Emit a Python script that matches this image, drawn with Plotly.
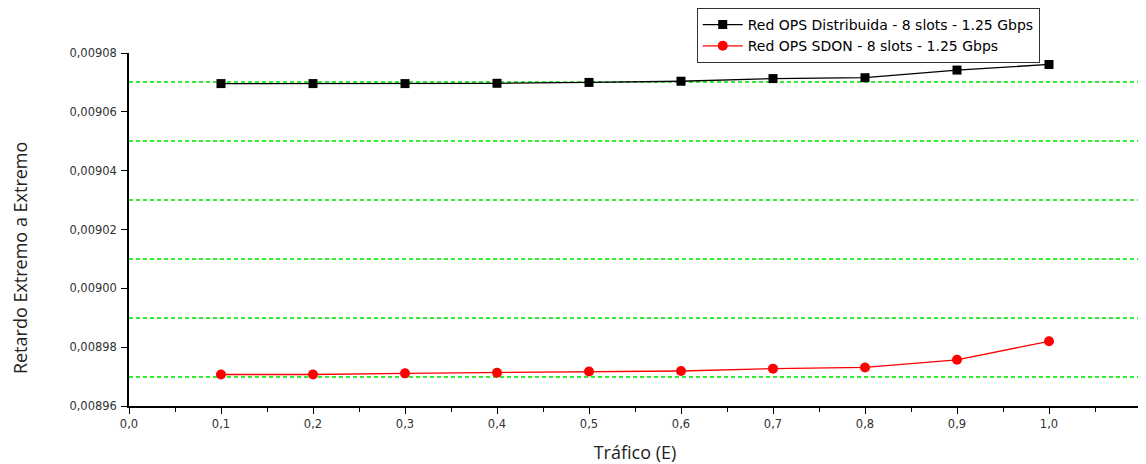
import plotly.graph_objects as go

trafico = [0.1, 0.2, 0.3, 0.4, 0.5, 0.6, 0.7, 0.8, 0.9, 1.0]
retardo_distribuida = [0.0090696, 0.0090696, 0.0090696, 0.0090697, 0.0090700,
                       0.0090704, 0.0090713, 0.0090716, 0.0090742, 0.0090761]
retardo_sdon = [0.0089707, 0.0089707, 0.0089711, 0.0089713, 0.0089717,
                0.0089719, 0.0089727, 0.0089731, 0.0089757, 0.0089820]
nombre_distribuida = "Red OPS Distribuida - 8 slots - 1.25 Gbps"
nombre_sdon = "Red OPS SDON - 8 slots - 1.25 Gbps"
titulo_x = "Tráfico (E)"
titulo_y = "Retardo Extremo a Extremo"

fig = go.Figure()
# invisible helper so the overlaid grid axis is rendered
fig.add_trace(go.Scatter(
    x=trafico, y=retardo_sdon, yaxis="y2", mode="lines",
    line=dict(width=0), opacity=0, showlegend=False, hoverinfo="skip",
))
fig.add_trace(go.Scatter(
    x=trafico, y=retardo_distribuida, name=nombre_distribuida,
    mode="lines+markers",
    line=dict(color="black", width=1.3),
    marker=dict(symbol="square", size=9, color="black"),
))
fig.add_trace(go.Scatter(
    x=trafico, y=retardo_sdon, name=nombre_sdon,
    mode="lines+markers",
    line=dict(color="#ff0000", width=1.3),
    marker=dict(symbol="circle", size=10, color="#ff0000"),
))

axis_font = dict(family="DejaVu Sans, Arial, sans-serif", size=11.5, color="#333333")
title_font = dict(family="Open Sans, Segoe UI, Arial, sans-serif", size=18, color="#222222")
yrange = [0.00896, 0.00908]

fig.update_layout(
    width=1133, height=456,
    margin=dict(l=121, r=0, t=45, b=58, autoexpand=False),
    paper_bgcolor="white", plot_bgcolor="white",
    separators=",.",
    showlegend=True,
    legend=dict(
        x=0.561, y=1.1275, xanchor="left", yanchor="top",
        bgcolor="white", bordercolor="#333333", borderwidth=1,
        font=dict(family="DejaVu Sans, Arial, sans-serif", size=14, color="black"),
        tracegroupgap=0, itemwidth=40,
    ),
    xaxis=dict(
        range=[0, 1.1], dtick=0.1, tick0=0, tickformat=".1f",
        showgrid=False, zeroline=False, automargin=False,
        showline=True, linecolor="black", linewidth=1.5,
        ticks="outside", ticklen=6, tickcolor="black", tickwidth=1.2,
        tickfont=axis_font,
        minor=dict(dtick=0.05, tick0=0, ticks="outside", ticklen=4,
                   tickcolor="black", showgrid=False),
        title=dict(text=titulo_x, standoff=22, font=title_font),
    ),
    yaxis=dict(
        range=yrange, dtick=0.00002, tick0=0.00896, tickformat=".5f",
        showgrid=False, zeroline=False, automargin=False,
        showline=True, linecolor="black", linewidth=1.5,
        ticks="outside", ticklen=6, tickcolor="black", tickwidth=1.2,
        tickfont=axis_font, ticklabelstandoff=2,
    ),
    yaxis2=dict(
        overlaying="y", side="left", range=yrange,
        tick0=0.00897, dtick=0.00002,
        showgrid=True, gridcolor="#33ee33", griddash="4px,3px", gridwidth=1.6,
        showticklabels=False, ticks="", showline=False, zeroline=False,
        automargin=False,
    ),
    annotations=[dict(
        text=titulo_y, textangle=-90, xref="paper", yref="paper",
        x=-0.1077, y=0.419, xanchor="center", yanchor="middle",
        showarrow=False, font=title_font,
    )],
)

fig.write_html("out.html")
